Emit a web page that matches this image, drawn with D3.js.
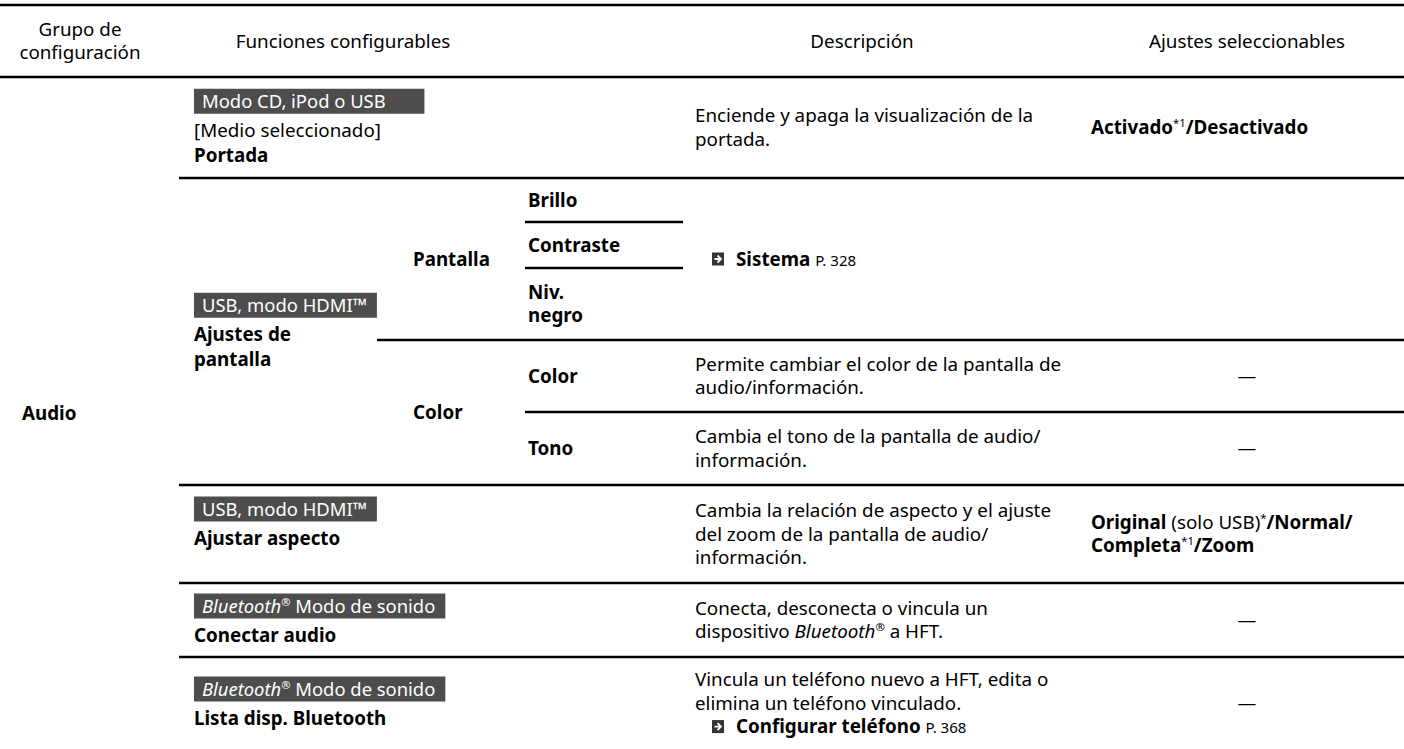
<!DOCTYPE html>
<html><head><meta charset="utf-8">
<script src="https://cdn.jsdelivr.net/npm/d3@7"></script>
<style>
body{margin:0;background:#fff}
svg{display:block}
text{font-family:"Noto Sans",sans-serif;fill:#000}
</style>
</head><body>
<svg id="c" width="1404" height="749"></svg>
<script>
// ---------- data ----------
const headerLabels = [["Grupo de","configuración"],["Funciones configurables"],["Descripción"],["Ajustes seleccionables"]];
const groupLabel = "**Audio**";
const featureTags = ["Modo CD, iPod o USB\u00a0\u00a0\u00a0\u00a0\u00a0\u00a0","USB, modo HDMI™","USB, modo HDMI™","_Bluetooth_^®^ Modo de sonido","_Bluetooth_^®^ Modo de sonido"];
const featureNames = [["[Medio seleccionado]","**Portada**"],["**Ajustes de**","**pantalla**"],["**Ajustar aspecto**"],["**Conectar audio**"],["**Lista disp. Bluetooth**"]];
const subGroups = ["**Pantalla**","**Color**"];
const subItems = [["**Brillo**","**Contraste**","**Niv.**|**negro**"],["**Color**","**Tono**"]];
const featureDescs = [
  ["Enciende y apaga la visualización de la","portada."],
  null,
  ["Cambia la relación de aspecto y el ajuste","del zoom de la pantalla de audio/","información."],
  ["Conecta, desconecta o vincula un","dispositivo _Bluetooth_^®^ a HFT."],
  ["Vincula un teléfono nuevo a HFT, edita o","elimina un teléfono vinculado.",">>**Configurar teléfono** ~P. 368~"]
];
const subGroupDescs = [[">>**Sistema** ~P. 328~"], null];
const colorItemDescs = [["Permite cambiar el color de la pantalla de","audio/información."],["Cambia el tono de la pantalla de audio/","información."]];
const featureSettings = [
  ["**Activado**^*1^**/Desactivado**"],
  null,
  ["**Original** (solo USB)^*^**/Normal/**","**Completa**^*1^**/Zoom**"],
  ["—"],
  ["—"]
];
const colorItemSettings = [["—"],["—"]];

// ---------- layout ----------
const W = 1404, FS = 18.8;
const X = {group:22, feat:194, sub:413, item:528, desc:695, set:1091, setMid:1247, h:[80,343,862,1247]};
const rowEdges = [77,178,485,583,657,749];
const tagShift = [0,0,-11,0,0];
const subEdges = [178,340,485];
const itemEdges = [[178,222,268,340],[340,412,485]];
const LH = 23.6;

const svg = d3.select("#c");

function rich(t, str, fs, color){
  const parts = str.split(/(\*\*[^*]+\*\*|_[^_]+_|\^[^^]+\^|~[^~]+~)/).filter(s=>s);
  let pending = 0;
  parts.forEach(p=>{
    let txt=p, w="normal", st="normal", size=fs, sup=false;
    if(p.startsWith("**")){txt=p.slice(2,-2);w="bold";}
    else if(p.startsWith("_")){txt=p.slice(1,-1);st="italic";}
    else if(p.startsWith("^")){txt=p.slice(1,-1);sup=true;size=fs*0.6;}
    else if(p.startsWith("~")){txt=p.slice(1,-1);size=fs*0.8;}
    const ts=t.append("tspan").text(txt).attr("font-weight",w).attr("font-style",st).attr("font-size",size);
    if(color) ts.style("fill",color);
    let dy=pending; pending=0;
    if(sup){dy-=fs*0.38; pending=fs*0.38;}
    if(dy) ts.attr("dy",dy);
  });
}

function lineText(x, cy, str, anchor){
  if(str.startsWith(">>")){
    const s=str.slice(2);
    const g=svg.append("g");
    g.append("rect").attr("x",x+17).attr("y",cy-6.5).attr("width",12).attr("height",13).attr("fill","#333");
    g.append("path").attr("d",`M${x+19.5},${cy} H${x+26} M${x+22.5},${cy-3.5} L${x+26},${cy} L${x+22.5},${cy+3.5}`)
      .attr("stroke","#fff").attr("stroke-width",1.8).attr("fill","none");
    const t=svg.append("text").attr("x",x+41).attr("y",cy+FS*0.35);
    rich(t,s,FS);
    return;
  }
  const t=svg.append("text").attr("x",x).attr("y",cy+FS*0.35).attr("text-anchor",anchor||"start");
  rich(t,str,FS);
}

function block(x, y0, y1, lines, anchor, lh){
  if(!lines) return;
  lh = lh||LH;
  const c=(y0+y1)/2, n=lines.length;
  lines.forEach((l,i)=>lineText(x, c+(i-(n-1)/2)*lh, l, anchor));
}

// rules
const rules = [{y:5,x0:0,x1:W},{y:77,x0:0,x1:W}];
rowEdges.slice(1,-1).forEach(y=>rules.push({y,x0:179,x1:W}));
rules.push({y:subEdges[1],x0:377,x1:W});
itemEdges[0].slice(1,-1).forEach(y=>rules.push({y,x0:525,x1:683}));
itemEdges[1].slice(1,-1).forEach(y=>rules.push({y,x0:525,x1:W}));
svg.selectAll("line.rule").data(rules).join("line").attr("class","rule")
  .attr("x1",d=>d.x0).attr("x2",d=>d.x1).attr("y1",d=>d.y).attr("y2",d=>d.y)
  .attr("stroke","#000").attr("stroke-width",2.6);

// header
headerLabels.forEach((h,i)=>block(X.h[i],5,77,h,"middle"));

// group label
block(X.group,rowEdges[0],rowEdges[rowEdges.length-1],[groupLabel]);

// features
featureTags.forEach((tag,i)=>{
  const y0=rowEdges[i], y1=rowEdges[i+1];
  const names=featureNames[i];
  const bh=25, nlh=24.5;
  const H=bh+23.5+(names.length-1)*nlh+4.5;
  const top=(y0+y1)/2-H/2+tagShift[i];
  const rect=svg.append("rect").attr("x",X.feat).attr("y",top).attr("height",bh).attr("fill","#4d4d4d");
  const t=svg.append("text").attr("x",X.feat+8).attr("y",top+bh/2+FS*0.35);
  rich(t,tag,FS*0.98,"#fff");
  rect.attr("width",t.node().getComputedTextLength()+18);
  names.forEach((nm,j)=>{
    const tt=svg.append("text").attr("x",X.feat).attr("y",top+bh+23.5+j*nlh);
    rich(tt,nm,FS);
  });
  block(X.desc,y0,y1,featureDescs[i]);
  const s=featureSettings[i];
  if(s){ if(s[0]==="—") block(X.setMid,y0,y1,s,"middle"); else block(X.set,y0,y1,s,"start"); }
});

// sub groups
subGroups.forEach((sg,i)=>{
  const y0=subEdges[i], y1=subEdges[i+1];
  block(X.sub,y0,y1,[sg]);
  block(X.desc,y0,y1,subGroupDescs[i]);
  const edges=itemEdges[i];
  subItems[i].forEach((it,j)=>{
    block(X.item,edges[j],edges[j+1],it.split("|"),"start");
    if(i===1){
      block(X.desc,edges[j],edges[j+1],colorItemDescs[j]);
      block(X.setMid,edges[j],edges[j+1],colorItemSettings[j],"middle");
    }
  });
});
</script>
</body></html>
